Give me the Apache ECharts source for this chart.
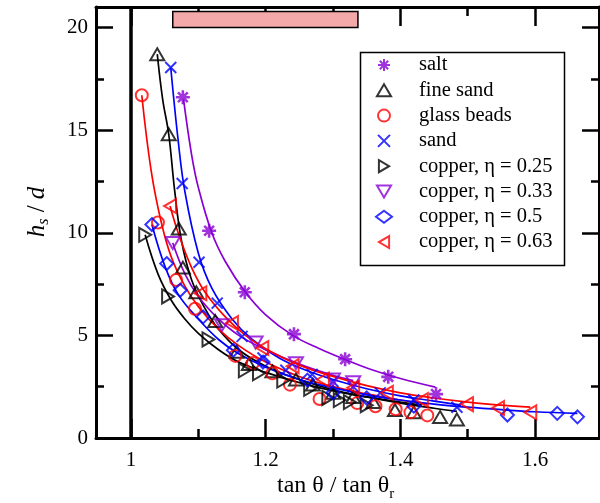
<!DOCTYPE html>
<html><head><meta charset="utf-8">
<script src="https://cdn.jsdelivr.net/npm/echarts@6/dist/echarts.min.js"></script>
<style>html,body{margin:0;padding:0;background:#fff}#c{width:600px;height:503px}</style>
</head><body><div id="c"></div>
<script>
// ---- data ----
const seriesNames = ['salt','fine sand','glass beads','sand','copper, η = 0.25','copper, η = 0.33','copper, η = 0.5','copper, η = 0.63'];
const salt = [[1.077,16.6],[1.116,10.1],[1.169,7.1],[1.242,5.06],[1.318,3.84],[1.382,2.98],[1.453,2.14]];
const fineSand = [[1.039,18.7],[1.056,14.8],[1.071,10.2],[1.077,8.3],[1.097,7.1],[1.125,5.7],[1.157,4.2],[1.175,3.6],[1.21,3.25],[1.245,2.85],[1.27,2.6],[1.30,2.2],[1.33,2.0],[1.36,1.75],[1.392,1.36],[1.42,1.25],[1.459,1.02],[1.484,0.9]];
const glassBeads = [[1.016,16.7],[1.040,10.5],[1.067,7.7],[1.095,6.3],[1.155,4.0],[1.181,3.65],[1.21,3.15],[1.236,2.6],[1.28,1.9],[1.336,1.7],[1.363,1.55],[1.393,1.4],[1.415,1.25],[1.44,1.1]];
const sand = [[1.059,18.05],[1.076,12.4],[1.101,8.56],[1.128,6.57],[1.165,4.95],[1.196,3.9],[1.23,3.3],[1.269,3.1],[1.30,2.75],[1.33,2.5],[1.37,2.2],[1.42,1.85],[1.484,1.5]];
const copper25 = [[1.021,9.9],[1.055,6.9],[1.115,4.8],[1.169,3.3],[1.19,3.15],[1.226,2.8],[1.266,2.4],[1.293,1.95],[1.31,1.85],[1.325,1.75],[1.35,1.6]];
const copper33 = [[1.062,9.5],[1.135,5.5],[1.185,4.65],[1.245,3.65],[1.30,2.85],[1.33,2.72]];
const copper50 = [[1.031,10.4],[1.053,8.5],[1.073,7.2],[1.107,5.9],[1.152,4.28],[1.196,3.7],[1.262,2.82],[1.30,2.2],[1.35,1.95],[1.42,1.55],[1.559,1.12],[1.633,1.2],[1.663,1.03]];
const copper63 = [[1.058,11.3],[1.103,7.05],[1.150,5.6],[1.195,4.38],[1.24,3.5],[1.285,2.85],[1.33,2.45],[1.38,2.2],[1.432,1.85],[1.499,1.65],[1.545,1.46],[1.593,1.25]];

// fitted curves
const fitSalt = [[1.078,16.5],[1.09,13.8],[1.10,12.2],[1.12,10.0],[1.14,8.6],[1.17,7.1],[1.20,6.0],[1.24,5.0],[1.28,4.35],[1.32,3.8],[1.36,3.3],[1.40,2.9],[1.452,2.48]];
const fitFineSand = [[1.039,18.7],[1.047,16.5],[1.056,14.8],[1.065,12.0],[1.075,9.6],[1.09,7.7],[1.11,6.3],[1.13,5.3],[1.16,4.3],[1.20,3.5],[1.25,2.85],[1.30,2.35],[1.35,2.0],[1.40,1.7],[1.45,1.45],[1.484,1.3]];
const fitGlassBeads = [[1.016,16.7],[1.03,13.0],[1.045,10.5],[1.06,8.8],[1.08,7.4],[1.10,6.4],[1.13,5.3],[1.16,4.5],[1.20,3.7],[1.25,3.0],[1.30,2.5],[1.35,2.15],[1.40,1.85],[1.44,1.65]];
const fitSand = [[1.059,18.05],[1.07,14.5],[1.08,12.0],[1.10,9.0],[1.12,7.3],[1.15,5.8],[1.18,4.8],[1.22,3.9],[1.26,3.3],[1.30,2.85],[1.35,2.4],[1.40,2.05],[1.45,1.8],[1.49,1.6]];
const fitCopper25 = [[1.021,9.9],[1.04,8.0],[1.06,6.7],[1.08,5.8],[1.10,5.1],[1.13,4.3],[1.16,3.7],[1.20,3.2],[1.25,2.7],[1.30,2.3],[1.35,2.0],[1.40,1.75],[1.432,1.6]];
const fitCopper33 = [[1.062,9.5],[1.08,8.0],[1.10,6.9],[1.13,5.8],[1.16,5.0],[1.20,4.3],[1.25,3.6],[1.30,3.05],[1.33,2.8]];
const fitCopper50 = [[1.031,10.4],[1.05,8.4],[1.07,7.0],[1.10,5.8],[1.13,4.8],[1.16,4.1],[1.20,3.45],[1.25,2.85],[1.30,2.45],[1.35,2.1],[1.40,1.85],[1.45,1.65],[1.50,1.5],[1.55,1.38],[1.60,1.28],[1.663,1.2]];
const fitCopper63 = [[1.058,11.3],[1.07,10.0],[1.09,8.3],[1.11,7.1],[1.14,5.9],[1.17,5.0],[1.20,4.35],[1.25,3.55],[1.30,3.0],[1.35,2.55],[1.40,2.2],[1.45,1.95],[1.50,1.75],[1.55,1.6],[1.593,1.5]];

const xLabelValues = [1, 1.2, 1.4, 1.6];
const xMajorTicks = [1, 1.2, 1.4, 1.6];
const xMinorTicks = [1.1, 1.3, 1.5];
const verticalRef = 1;
const bandX = [1.062, 1.337];
const bandY = [20.0, 20.78];

// ---- styles ----
const PURPLE = '#8A00D4', BLACK = '#000', RED = '#FF0000', BLUE = '#0000FF';
const SERIF = '"Liberation Serif","DejaVu Serif",serif';
const CLEAR = 'rgba(255,255,255,0)';
const ASTER = 'path://M0,-10L0,10M-10,0L10,0M-7,-7L7,7M-7,7L7,-7';
const CROSS = 'path://M-10,-10L10,10M-10,10L10,-10';
const TRI_UP = 'path://M10,0L20,17L0,17Z';
const TRI_RIGHT = 'path://M0,0L17,10L0,20Z';
const TRI_DOWN = 'path://M0,0L20,0L10,17Z';
const TRI_LEFT = 'path://M17,0L0,10L17,20Z';
const legendIcons = [ASTER, TRI_UP, 'circle', CROSS, TRI_RIGHT, TRI_DOWN, 'diamond', TRI_LEFT];

function scat(name, data, color, symbol, size, bw) {
  return {
    name, type: 'scatter', data, symbol, symbolSize: size, z: 4,
    symbolKeepAspect: true,
    itemStyle: { color: CLEAR, borderColor: color, borderWidth: bw || 2 },
    emphasis: { disabled: true }
  };
}
function fit(data, color) {
  return {
    type: 'line', data, smooth: 0.4, showSymbol: false, symbol: 'none', z: 3,
    lineStyle: { color, width: 1.7 }, emphasis: { disabled: true }, silent: true
  };
}

const xMin = 0.948, xMax = 1.695;
function xAx(pos, ticks, len, labels, showLine) {
  return {
    type: 'value', position: pos, min: xMin, max: xMax,
    axisLine: { show: showLine, onZero: false, lineStyle: { color: '#000', width: 3 } },
    axisTick: { show: true, inside: true, length: len, customValues: ticks, lineStyle: { color: '#000', width: 2.5 } },
    axisLabel: labels ? { show: true, customValues: xLabelValues, margin: 12, color: '#000', fontSize: 21, fontFamily: SERIF,
      formatter: v => String(Math.round(v * 10) / 10) } : { show: false },
    splitLine: { show: false }
  };
}
function yAx(pos, labels) {
  return {
    type: 'value', position: pos, min: 0, max: 21, interval: 5,
    axisLine: { show: true, onZero: false, lineStyle: { color: '#000', width: 3 } },
    axisTick: { show: true, inside: true, length: 17, lineStyle: { color: '#000', width: 2.5 } },
    minorTick: { show: true, splitNumber: 2, length: 8, lineStyle: { color: '#000', width: 2.5 } },
    axisLabel: labels ? { show: true, margin: 8, color: '#000', fontSize: 21, fontFamily: SERIF,
      showMaxLabel: false } : { show: false },
    splitLine: { show: false }
  };
}

const series = [
  scat(seriesNames[0], salt, PURPLE, ASTER, 14, 2.6),
  scat(seriesNames[1], fineSand, BLACK, TRI_UP, 14),
  scat(seriesNames[2], glassBeads, RED, 'circle', 12),
  scat(seriesNames[3], sand, BLUE, CROSS, 11, 2),
  scat(seriesNames[4], copper25, BLACK, TRI_RIGHT, 14),
  scat(seriesNames[5], copper33, PURPLE, TRI_DOWN, 14),
  scat(seriesNames[6], copper50, BLUE, 'diamond', 13),
  scat(seriesNames[7], copper63, RED, TRI_LEFT, 14),
  fit(fitSalt, PURPLE), fit(fitFineSand, BLACK), fit(fitGlassBeads, RED), fit(fitSand, BLUE),
  fit(fitCopper25, BLACK), fit(fitCopper33, PURPLE), fit(fitCopper50, BLUE), fit(fitCopper63, RED),
  {
    type: 'line', data: [], silent: true, z: 5,
    markLine: { symbol: 'none', silent: true, label: { show: false },
      lineStyle: { color: '#000', width: 3.5, type: 'solid' }, data: [{ xAxis: verticalRef }] },
    markArea: { silent: true, itemStyle: { color: '#f3a9a9', borderColor: '#000', borderWidth: 1.5 },
      data: [[{ xAxis: bandX[0], yAxis: bandY[0] }, { xAxis: bandX[1], yAxis: bandY[1] }]] }
  }
];

const chart = echarts.init(document.getElementById('c'), null, { renderer: 'canvas' });
chart.setOption({
  animation: false,
  backgroundColor: '#fff',
  grid: { left: 96, right: 1, top: 7, bottom: 65, containLabel: false },
  xAxis: [
    xAx('bottom', xMajorTicks, 19, true, true),
    xAx('bottom', xMinorTicks, 9, false, false),
    xAx('top', xMajorTicks, 19, false, true),
    xAx('top', xMinorTicks, 9, false, false)
  ],
  yAxis: [yAx('left', true), yAx('right', false)],
  legend: {
    data: seriesNames.map((n, i) => ({ name: n, icon: legendIcons[i] })),
    orient: 'vertical', left: 375, top: 54.5, padding: 0,
    itemWidth: 16, itemHeight: 12, itemGap: 4.3, selectedMode: false,
    symbolKeepAspect: true,
    itemStyle: { borderWidth: 2 },
    textStyle: { fontFamily: SERIF, fontSize: 20.5, color: '#000', padding: [0, 0, 0, 22] }
  },
  graphic: [
    { type: 'rect', left: 358, top: 50, shape: { width: 204, height: 213 },
      style: { fill: 'none', stroke: '#000', lineWidth: 1.5 }, z: 10, silent: true },
    { type: 'text', left: 277, top: 474, z: 10, silent: true,
      style: { text: '{a|tan θ / tan θ}{b|r}', rich: {
        a: { fontFamily: SERIF, fontSize: 24, fill: '#000' },
        b: { fontFamily: SERIF, fontSize: 15, fill: '#000', padding: [16, 0, 0, 0] } } } },
    { type: 'text', x: 37, y: 212, rotation: Math.PI / 2, z: 10, silent: true,
      style: { text: '{i|h}{s|s}{n| / }{i|d}', align: 'center', verticalAlign: 'middle', rich: {
        i: { fontFamily: SERIF, fontStyle: 'italic', fontSize: 25, fill: '#000' },
        s: { fontFamily: SERIF, fontStyle: 'italic', fontSize: 16, fill: '#000', padding: [14, 0, 0, 0] },
        n: { fontFamily: SERIF, fontSize: 25, fill: '#000' } } } }
  ],
  series
});
</script></body></html>
